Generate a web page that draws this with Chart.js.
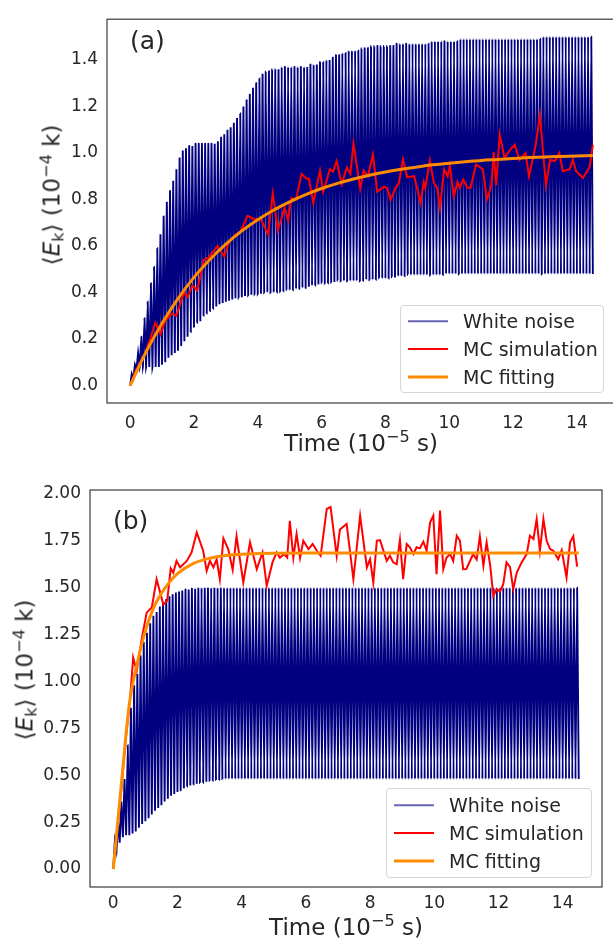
<!DOCTYPE html>
<html lang="en">
<head>
<meta charset="UTF-8">
<title>Kinetic energy: white noise vs MC</title>
<script src="https://cdn.jsdelivr.net/npm/chart.js"></script>
<style>
  body { margin: 0; width: 613px; height: 939px; position: relative; overflow: hidden; background: #fff;
         font-family: "DejaVu Sans", sans-serif; color: #262626; }
  canvas { position: absolute; left: 0; }
  #chartA { top: 0; }
  #chartB { top: 470px; }
  .lbl { position: absolute; white-space: nowrap; line-height: 1; }
  .panel { font-size: 25px; transform: translateY(-50%); }
  .xt { font-size: 23px; transform: translate(-50%, -50%); }
  .yt { font-size: 23px; transform: translate(-50%, -50%) rotate(-90deg); }
  sup { font-size: 70%; vertical-align: 0.5em; line-height: 0; }
  sub { font-size: 70%; vertical-align: -0.25em; line-height: 0; }
  .legend { position: absolute; box-sizing: border-box; border: 1px solid #d6d6d6; border-radius: 4px;
            background: rgba(255,255,255,0.85); }
  .item { position: absolute; left: 0; right: 0; height: 28px; line-height: 28px; font-size: 19px; }
  .item i { position: absolute; left: 7px; width: 40px; top: 50%; transform: translateY(-50%); }
  .item span { position: absolute; left: 62px; }
</style>
</head>
<body>
<canvas id="chartA" width="620" height="470"></canvas>
<canvas id="chartB" width="613" height="469"></canvas>

<div class="lbl panel" style="left:130px; top:40px;">(a)</div>
<div class="lbl panel" style="left:113px; top:520px;">(b)</div>

<div class="lbl xt" style="left:361px; top:443px;">Time (10<sup>−5</sup> s)</div>
<div class="lbl xt" style="left:346px; top:927px;">Time (10<sup>−5</sup> s)</div>
<div class="lbl yt" style="left:52px; top:195px;">⟨<i>E</i><sub>k</sub>⟩ (10<sup>−4</sup> k)</div>
<div class="lbl yt" style="left:25px; top:670px;">⟨<i>E</i><sub>k</sub>⟩ (10<sup>−4</sup> k)</div>

<div class="legend" style="left:400px; top:305px; width:204px; height:88px;">
  <div class="item" style="top:1px"><i style="height:1.5px; background:#000080; opacity:0.6"></i><span>White noise</span></div>
  <div class="item" style="top:29px"><i style="height:2px; background:#ff0000"></i><span>MC simulation</span></div>
  <div class="item" style="top:57px"><i style="height:3px; background:#ff8c00"></i><span>MC fitting</span></div>
</div>
<div class="legend" style="left:386px; top:788px; width:206px; height:90px;">
  <div class="item" style="top:2px"><i style="height:1.5px; background:#000080; opacity:0.6"></i><span>White noise</span></div>
  <div class="item" style="top:30px"><i style="height:2px; background:#ff0000"></i><span>MC simulation</span></div>
  <div class="item" style="top:58px"><i style="height:3px; background:#ff8c00"></i><span>MC fitting</span></div>
</div>

<script>
// ticks
const xTicks = [0, 2, 4, 6, 8, 10, 12, 14];
const yTicksA = [0, 0.2, 0.4, 0.6, 0.8, 1.0, 1.2, 1.4];
const yTicksB = [0, 0.25, 0.5, 0.75, 1.0, 1.25, 1.5, 1.75, 2.0];

// white noise: troughs at t = 0, 0.1, 0.2 ... and peaks half a step later
const noiseStep = 0.05;
const noiseUpperA = [
  0.05, 0.09, 0.14, 0.21, 0.29, 0.36, 0.44, 0.51, 0.59, 0.65, 0.73, 0.79, 0.84, 0.88, 0.93, 0.98, 1.01, 1.02, 1.03, 1.03,
  1.04, 1.04, 1.04, 1.04, 1.04, 1.04, 1.04, 1.05, 1.07, 1.08, 1.10, 1.11, 1.13, 1.15, 1.17, 1.20, 1.23, 1.25, 1.28, 1.30,
  1.32, 1.34, 1.35, 1.35, 1.36, 1.36, 1.36, 1.37, 1.37, 1.37, 1.37, 1.37, 1.37, 1.37, 1.37, 1.37, 1.38, 1.38, 1.38, 1.39,
  1.39, 1.40, 1.40, 1.41, 1.42, 1.42, 1.43, 1.43, 1.44, 1.44, 1.44, 1.44, 1.45, 1.45, 1.45, 1.46, 1.46, 1.46, 1.46, 1.46,
  1.46, 1.46, 1.46, 1.47, 1.47, 1.47, 1.47, 1.47, 1.47, 1.47, 1.47, 1.47, 1.47, 1.47, 1.48, 1.48, 1.48, 1.48, 1.48, 1.48,
  1.48, 1.48, 1.48, 1.49, 1.49, 1.49, 1.49, 1.49, 1.49, 1.49, 1.49, 1.49, 1.49, 1.49, 1.49, 1.49, 1.49, 1.49, 1.49, 1.49,
  1.49, 1.49, 1.49, 1.49, 1.49, 1.49, 1.49, 1.49, 1.49, 1.50, 1.50, 1.50, 1.50, 1.50, 1.50, 1.50, 1.50, 1.50, 1.50, 1.50,
  1.50, 1.50, 1.50, 1.50, 1.50
];
const noiseLowerA = [
  0, 0.03, 0.07, 0.08, 0.08, 0.08, 0.08, 0.08, 0.08, 0.08, 0.09, 0.10, 0.12, 0.13, 0.14, 0.15, 0.17, 0.19, 0.21, 0.23,
  0.25, 0.27, 0.28, 0.30, 0.31, 0.32, 0.33, 0.34, 0.35, 0.355, 0.36, 0.365, 0.37, 0.375, 0.38, 0.38, 0.385, 0.39, 0.39, 0.395,
  0.395, 0.395, 0.40, 0.40, 0.40, 0.40, 0.40, 0.405, 0.405, 0.41, 0.41, 0.41, 0.415, 0.415, 0.42, 0.42, 0.425, 0.43, 0.43, 0.435,
  0.44, 0.44, 0.44, 0.445, 0.445, 0.45, 0.45, 0.45, 0.45, 0.45, 0.45, 0.45, 0.45, 0.45, 0.455, 0.455, 0.455, 0.455, 0.46, 0.46,
  0.46, 0.46, 0.465, 0.465, 0.47, 0.47, 0.47, 0.475, 0.475, 0.475, 0.475, 0.475, 0.475, 0.475, 0.475, 0.475, 0.475, 0.475, 0.475, 0.48,
  0.48, 0.48, 0.48, 0.48, 0.48, 0.48, 0.48, 0.48, 0.48, 0.48, 0.48, 0.48, 0.48, 0.48, 0.48, 0.48, 0.48, 0.48, 0.48, 0.48,
  0.48, 0.48, 0.48, 0.48, 0.48, 0.48, 0.48, 0.48, 0.48, 0.48, 0.48, 0.48, 0.48, 0.48, 0.48, 0.48, 0.48, 0.48, 0.48, 0.48,
  0.48, 0.48, 0.48, 0.48, 0.48, 0.48
];
const noiseUpperB = [
  0.15, 0.25, 0.36, 0.48, 0.66, 0.86, 0.98, 1.04, 1.14, 1.21, 1.26, 1.31, 1.35, 1.37, 1.40, 1.42, 1.44, 1.455, 1.465, 1.475,
  1.48, 1.485, 1.49, 1.49, 1.495, 1.495, 1.5, 1.5, 1.5, 1.5, 1.5, 1.5, 1.5, 1.5, 1.5, 1.5, 1.5, 1.5, 1.5, 1.5,
  1.5, 1.5, 1.5, 1.5, 1.5, 1.5, 1.5, 1.5, 1.5, 1.5, 1.5, 1.5, 1.5, 1.5, 1.5, 1.5, 1.5, 1.5, 1.5, 1.5,
  1.5, 1.5, 1.5, 1.5, 1.5, 1.5, 1.5, 1.5, 1.5, 1.5, 1.5, 1.5, 1.5, 1.5, 1.5, 1.5, 1.5, 1.5, 1.5, 1.5,
  1.5, 1.5, 1.5, 1.5, 1.5, 1.5, 1.5, 1.5, 1.5, 1.5, 1.5, 1.5, 1.5, 1.5, 1.5, 1.5, 1.5, 1.5, 1.5, 1.5,
  1.5, 1.5, 1.5, 1.5, 1.5, 1.5, 1.5, 1.5, 1.5, 1.5, 1.5, 1.5, 1.5, 1.5, 1.5, 1.5, 1.5, 1.5, 1.5, 1.5,
  1.5, 1.5, 1.5, 1.5, 1.5, 1.5, 1.5, 1.5, 1.5, 1.5, 1.5, 1.5, 1.5, 1.5, 1.5, 1.5, 1.5, 1.5, 1.5, 1.5,
  1.5, 1.5, 1.5, 1.5, 1.5
];
const noiseLowerB = [
  0, 0.10, 0.14, 0.17, 0.18, 0.18, 0.19, 0.20, 0.22, 0.24, 0.255, 0.27, 0.29, 0.31, 0.325, 0.34, 0.36, 0.375, 0.39, 0.40,
  0.41, 0.42, 0.43, 0.44, 0.445, 0.45, 0.455, 0.46, 0.46, 0.465, 0.47, 0.47, 0.475, 0.475, 0.48, 0.48, 0.48, 0.48, 0.48, 0.48,
  0.48, 0.48, 0.48, 0.48, 0.48, 0.48, 0.48, 0.48, 0.48, 0.48, 0.48, 0.48, 0.48, 0.48, 0.48, 0.48, 0.48, 0.48, 0.48, 0.48,
  0.48, 0.48, 0.48, 0.48, 0.48, 0.48, 0.48, 0.48, 0.48, 0.48, 0.48, 0.48, 0.48, 0.48, 0.48, 0.48, 0.48, 0.48, 0.48, 0.48,
  0.48, 0.48, 0.48, 0.48, 0.48, 0.48, 0.48, 0.48, 0.48, 0.48, 0.48, 0.48, 0.48, 0.48, 0.48, 0.48, 0.48, 0.48, 0.48, 0.48,
  0.48, 0.48, 0.48, 0.48, 0.48, 0.48, 0.48, 0.48, 0.48, 0.48, 0.48, 0.48, 0.48, 0.48, 0.48, 0.48, 0.48, 0.48, 0.48, 0.48,
  0.48, 0.48, 0.48, 0.48, 0.48, 0.48, 0.48, 0.48, 0.48, 0.48, 0.48, 0.48, 0.48, 0.48, 0.48, 0.48, 0.48, 0.48, 0.48, 0.48,
  0.48, 0.48, 0.48, 0.48, 0.48, 0.48
];

// MC simulation (red)
const simTimeA = [0, 0.16, 0.32, 0.47, 0.63, 0.79, 0.95, 1.1, 1.32, 1.45, 1.68, 1.8, 1.95, 2.1, 2.31, 2.45, 2.74, 2.95, 3.1, 3.32,
  3.45, 3.68, 3.89, 4.1, 4.32, 4.47, 4.63, 4.84, 4.95, 5.05, 5.2, 5.37, 5.53, 5.6, 5.74, 5.95, 6.05, 6.26, 6.36, 6.47,
  6.63, 6.79, 6.9, 7.0, 7.21, 7.32, 7.45, 7.61, 7.74, 7.95, 8.05, 8.16, 8.32, 8.42, 8.55, 8.68, 8.9, 9.1, 9.2, 9.25,
  9.39, 9.52, 9.62, 9.71, 9.84, 9.95, 10.02, 10.14, 10.26, 10.33, 10.44, 10.57, 10.67, 10.84, 11.05, 11.18, 11.32, 11.39, 11.47, 11.58,
  11.73, 11.89, 12.05, 12.2, 12.39, 12.5, 12.71, 12.84, 13.03, 13.16, 13.31, 13.45, 13.56, 13.77, 13.87, 13.98, 14.19, 14.4, 14.5];
const simA = [0, 0.06, 0.1, 0.14, 0.2, 0.27, 0.22, 0.28, 0.31, 0.3, 0.4, 0.38, 0.43, 0.41, 0.54, 0.55, 0.6, 0.555, 0.62, 0.65,
  0.66, 0.73, 0.715, 0.715, 0.65, 0.826, 0.667, 0.764, 0.71, 0.805, 0.8, 0.91, 0.889, 0.89, 0.785, 0.924, 0.833, 0.93, 0.92, 0.965,
  0.865, 0.9375, 0.91, 1.04, 0.847, 0.924, 0.9, 0.993, 0.833, 0.854, 0.85, 0.799, 0.85, 0.87, 0.972, 0.896, 0.9, 0.785, 0.875, 0.85,
  0.968, 0.87, 0.85, 0.764, 0.93, 0.9, 0.944, 0.8125, 0.875, 0.85, 0.885, 0.85, 0.85, 0.951, 0.93, 0.8, 0.86, 1.004, 0.861, 1.079,
  0.98, 1.01, 1.035, 0.97, 1.0, 0.899, 1.035, 1.1625, 0.861, 0.97, 0.965, 1.0, 0.921, 0.93, 0.97, 0.92, 0.893, 0.94, 1.035];
const simTimeB = [0, 0.12, 0.25, 0.38, 0.52, 0.62, 0.73, 0.88, 1.04, 1.2, 1.35, 1.56, 1.68, 1.79, 1.87, 1.97, 2.08, 2.29, 2.44, 2.6,
  2.8, 2.91, 3.01, 3.12, 3.22, 3.32, 3.43, 3.58, 3.72, 3.84, 4.05, 4.26, 4.47, 4.65, 4.78, 4.96, 5.09, 5.19, 5.32, 5.42,
  5.5, 5.61, 5.71, 5.82, 5.92, 6.08, 6.21, 6.34, 6.46, 6.65, 6.77, 6.96, 7.06, 7.27, 7.48, 7.69, 7.9, 8.0, 8.1, 8.21,
  8.31, 8.52, 8.62, 8.72, 8.83, 8.93, 9.03, 9.14, 9.24, 9.35, 9.45, 9.55, 9.66, 9.76, 9.87, 9.97, 10.07, 10.18, 10.28, 10.38,
  10.49, 10.59, 10.7, 10.8, 10.9, 11.0, 11.21, 11.32, 11.42, 11.53, 11.63, 11.74, 11.84, 11.94, 12.05, 12.15, 12.25, 12.36, 12.46, 12.57,
  12.72, 12.88, 12.98, 13.09, 13.19, 13.29, 13.4, 13.5, 13.61, 13.71, 13.86, 13.97, 14.12, 14.23, 14.33, 14.45];
const simB = [0, 0.2, 0.42, 0.68, 0.9, 1.127, 1.055, 1.22, 1.367, 1.394, 1.545, 1.41, 1.43, 1.603, 1.58, 1.643, 1.608, 1.643, 1.688, 1.795,
  1.697, 1.59, 1.643, 1.608, 1.652, 1.545, 1.763, 1.706, 1.595, 1.774, 1.528, 1.742, 1.599, 1.688, 1.51, 1.635, 1.688, 1.66, 1.679, 1.66,
  1.857, 1.66, 1.786, 1.66, 1.75, 1.706, 1.733, 1.697, 1.67, 1.92, 1.93, 1.67, 1.81, 1.84, 1.545, 1.884, 1.608, 1.652, 1.528, 1.75,
  1.754, 1.643, 1.67, 1.635, 1.625, 1.756, 1.545, 1.733, 1.715, 1.68, 1.716, 1.71, 1.745, 1.697, 1.849, 1.884, 1.572, 1.911, 1.599, 1.66,
  1.68, 1.643, 1.777, 1.75, 1.599, 1.6, 1.679, 1.65, 1.774, 1.617, 1.742, 1.62, 1.456, 1.492, 1.48, 1.519, 1.635, 1.61, 1.492, 1.581,
  1.635, 1.679, 1.777, 1.76, 1.866, 1.697, 1.866, 1.75, 1.706, 1.697, 1.652, 1.7, 1.555, 1.742, 1.774, 1.613];

// MC fitting (orange)
const fitTimeA = [0, 0.5, 1, 1.5, 2, 2.5, 3, 3.5, 4, 4.5, 5, 5.5, 6, 6.5, 7, 7.5, 8, 8.5, 9, 9.5,
  10, 10.5, 11, 11.5, 12, 12.5, 13, 13.5, 14, 14.5];
const fitA = [0, 0.145, 0.268, 0.374, 0.465, 0.542, 0.608, 0.665, 0.713, 0.755, 0.79, 0.821, 0.847, 0.869, 0.888, 0.904, 0.918, 0.93, 0.94, 0.949,
  0.956, 0.962, 0.968, 0.972, 0.976, 0.98, 0.983, 0.985, 0.987, 0.989];
const fitTimeB = [0, 0.25, 0.5, 0.75, 1, 1.25, 1.5, 1.75, 2, 2.5, 3, 3.5, 4, 5, 6, 7, 8, 9, 10, 11, 12, 13, 14, 14.5];
const fitB = [0, 0.45, 0.88, 1.1, 1.27, 1.39, 1.47, 1.53, 1.575, 1.63, 1.657, 1.672, 1.679, 1.684, 1.685, 1.685, 1.685, 1.685, 1.685, 1.685,
  1.685, 1.685, 1.685, 1.685];

function zigzag(lower, upper) {
  const pts = [];
  for (let i = 0; i < lower.length; i++) {
    pts.push({ x: 2 * i * noiseStep, y: lower[i] });
    if (i < upper.length) pts.push({ x: (2 * i + 1) * noiseStep, y: upper[i] });
  }
  return pts;
}
function pairs(ts, vs) {
  return ts.map((t, i) => ({ x: t, y: vs[i] }));
}

// box around the plot area
const frame = {
  id: 'frame',
  afterDatasetsDraw(chart) {
    const { ctx, chartArea: a } = chart;
    ctx.save();
    ctx.strokeStyle = '#3a3a3a';
    ctx.lineWidth = 1.2;
    ctx.strokeRect(a.left, a.top, a.right - a.left, a.bottom - a.top);
    ctx.restore();
  }
};

const tickFont = { family: 'DejaVu Sans', size: 17 };

function build(id, o) {
  return new Chart(document.getElementById(id), {
    type: 'line',
    data: {
      datasets: [
        // tiny tension keeps the real zigzag (the fast path would merge points per pixel column)
        { label: 'White noise', data: zigzag(o.lower, o.upper), borderColor: '#000080', borderWidth: 1.9,
          pointRadius: 0, order: 3, tension: 0.001 },
        { label: 'MC simulation', data: pairs(o.simT, o.sim), borderColor: '#ff0000', borderWidth: 2,
          pointRadius: 0, order: 2 },
        { label: 'MC fitting', data: pairs(o.fitT, o.fit), borderColor: '#ff8c00', borderWidth: 3,
          pointRadius: 0, order: 1, cubicInterpolationMode: 'monotone' }
      ]
    },
    options: {
      responsive: false,
      animation: false,
      devicePixelRatio: 1,
      layout: { padding: o.pad },
      plugins: { legend: { display: false }, tooltip: { enabled: false } },
      scales: {
        x: {
          type: 'linear', min: -0.725, max: 15.225,
          grid: { display: false, drawTicks: false }, border: { display: false },
          afterBuildTicks: s => { s.ticks = xTicks.map(v => ({ value: v })); },
          afterFit: s => { s.height = o.xh; },
          ticks: { font: tickFont, color: '#262626', padding: o.xpad, maxRotation: 0, autoSkip: false,
                   callback: v => String(v) }
        },
        y: {
          type: 'linear', min: o.ymin, max: o.ymax,
          grid: { display: false, drawTicks: false }, border: { display: false },
          afterBuildTicks: s => { s.ticks = o.yTicks.map(v => ({ value: v })); },
          afterFit: s => { s.width = o.yw; },
          ticks: { font: tickFont, color: '#262626', padding: 9, autoSkip: false,
                   callback: v => v.toFixed(o.dec) }
        }
      }
    },
    plugins: [frame]
  });
}

build('chartA', {
  lower: noiseLowerA, upper: noiseUpperA, simT: simTimeA, sim: simA, fitT: fitTimeA, fit: fitA,
  ymin: -0.075, ymax: 1.575, yTicks: yTicksA, dec: 1,
  pad: { top: 8, right: 4, left: 0, bottom: 0 }, yw: 107, xh: 67, xpad: 10
});
build('chartB', {
  lower: noiseLowerB, upper: noiseUpperB, simT: simTimeB, sim: simB, fitT: fitTimeB, fit: fitB,
  ymin: -0.096, ymax: 2.021, yTicks: yTicksB, dec: 2,
  pad: { top: 20, right: 11, left: 0, bottom: 0 }, yw: 90, xh: 52, xpad: 6
});
</script>
</body>
</html>
